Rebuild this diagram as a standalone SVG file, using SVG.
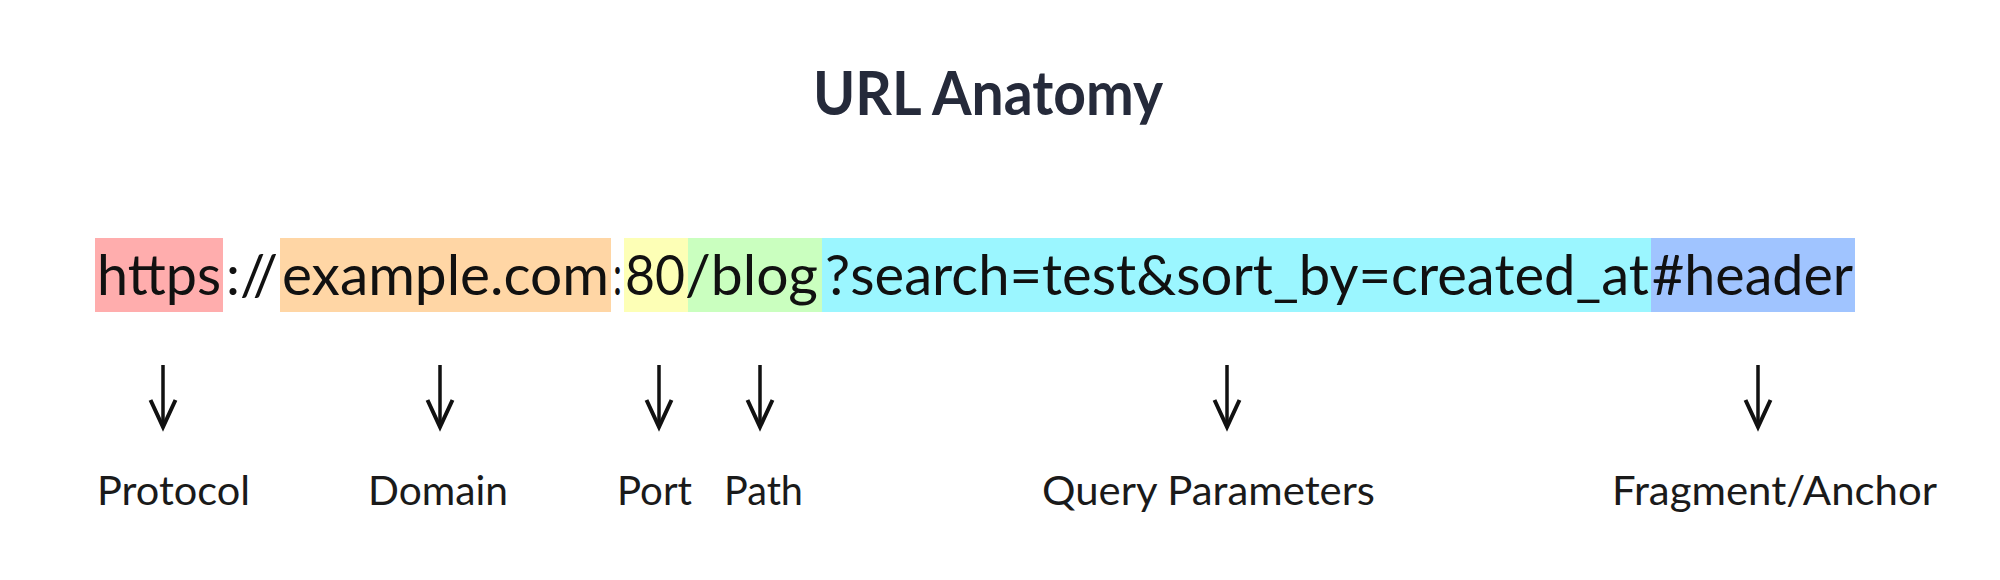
<svg xmlns="http://www.w3.org/2000/svg" width="2000" height="580" viewBox="0 0 2000 580">
  <style>
    .title { font-family: Lato, "Noto Sans", sans-serif; font-weight: 700; font-size: 62px; fill: #252a3a; }
    .url { font-family: Lato, "Noto Sans", sans-serif; font-size: 56px; fill: #111111; }
    .label { font-family: Lato, "Noto Sans", sans-serif; font-size: 40px; fill: #1a1a1a; }
    .arrow { stroke: #111111; stroke-width: 3.5; fill: none; marker-end: url(#head); }
  </style>
  <defs>
    <marker id="head" markerUnits="userSpaceOnUse" viewBox="-32 -16 36 32" refX="0" refY="0" markerWidth="36" markerHeight="32" orient="auto" overflow="visible">
      <path d="M -27 -12.5 L 0 0 L -27 12.5" fill="none" stroke="#111111" stroke-width="4" stroke-linejoin="miter"/>
    </marker>
  </defs>
  <rect width="2000" height="580" fill="#ffffff"/>

  <g id="title">
    <text class="title" x="988" y="115" text-anchor="middle" textLength="350" lengthAdjust="spacingAndGlyphs">URL Anatomy</text>
  </g>

  <g id="url">
    <g id="seg-protocol">
      <rect x="95" y="238" width="128" height="74" fill="#ffadad"/>
      <text class="url" x="97" y="295" textLength="124" lengthAdjust="spacingAndGlyphs">https</text>
    </g>
    <text class="url" x="226" y="295" textLength="52" lengthAdjust="spacingAndGlyphs">://</text>
    <g id="seg-domain">
      <rect x="280" y="238" width="331" height="74" fill="#ffd6a5"/>
      <text class="url" x="282" y="295" textLength="327" lengthAdjust="spacingAndGlyphs">example.com</text>
    </g>
    <text class="url" x="613" y="295" textLength="9" lengthAdjust="spacingAndGlyphs">:</text>
    <g id="seg-port">
      <rect x="624" y="238" width="64" height="74" fill="#fdffb6"/>
    </g>
    <g id="seg-path">
      <rect x="688" y="238" width="134" height="74" fill="#caffbf"/>
    </g>
    <text class="url" x="625" y="295" textLength="60" lengthAdjust="spacingAndGlyphs">80</text>
    <text class="url" x="685" y="295" textLength="133" lengthAdjust="spacingAndGlyphs">/blog</text>
    <g id="seg-query">
      <rect x="822" y="238" width="829" height="74" fill="#9bf6ff"/>
      <text class="url" x="825" y="295" textLength="824" lengthAdjust="spacingAndGlyphs">?search=test&amp;sort_by=created_at</text>
    </g>
    <g id="seg-fragment">
      <rect x="1651" y="238" width="204" height="74" fill="#a0c4ff"/>
      <text class="url" x="1652" y="295" textLength="201" lengthAdjust="spacingAndGlyphs">#header</text>
    </g>
  </g>

  <g id="connectors">
    <line class="arrow" x1="163" y1="365" x2="163" y2="427"/>
    <line class="arrow" x1="440" y1="365" x2="440" y2="427"/>
    <line class="arrow" x1="659" y1="365" x2="659" y2="427"/>
    <line class="arrow" x1="760" y1="365" x2="760" y2="427"/>
    <line class="arrow" x1="1227" y1="365" x2="1227" y2="427"/>
    <line class="arrow" x1="1758" y1="365" x2="1758" y2="427"/>
  </g>

  <g id="label-protocol"><text class="label" x="97" y="505" textLength="153" lengthAdjust="spacingAndGlyphs">Protocol</text></g>
  <g id="label-domain"><text class="label" x="368" y="505" textLength="140" lengthAdjust="spacingAndGlyphs">Domain</text></g>
  <g id="label-port"><text class="label" x="617" y="505" textLength="75" lengthAdjust="spacingAndGlyphs">Port</text></g>
  <g id="label-path"><text class="label" x="724" y="505" textLength="79" lengthAdjust="spacingAndGlyphs">Path</text></g>
  <g id="label-query"><text class="label" x="1042" y="505" textLength="333" lengthAdjust="spacingAndGlyphs">Query Parameters</text></g>
  <g id="label-fragment"><text class="label" x="1612" y="505" textLength="325" lengthAdjust="spacingAndGlyphs">Fragment/Anchor</text></g>
</svg>
